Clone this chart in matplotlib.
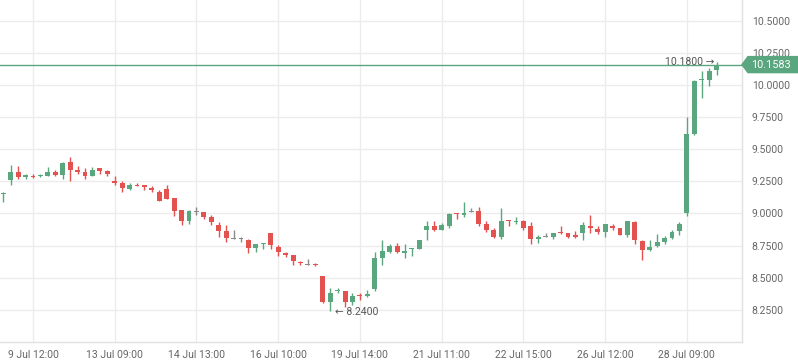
import matplotlib
matplotlib.use("Agg")
import matplotlib.pyplot as plt
from matplotlib.patches import Polygon
import matplotlib.transforms as mtransforms

opens = [9.148, 9.26, 9.32, 9.28, 9.29, 9.29, 9.29, 9.32, 9.30, 9.40,
         9.34, 9.32, 9.29, 9.35, 9.33, 9.25, 9.24, 9.19, 9.22, 9.22,
         9.20, 9.17, 9.19, 9.12, 9.03, 8.945, 9.01, 9.01, 8.97, 8.91,
         8.86, 8.80, 8.80, 8.79, 8.73, 8.76, 8.845, 8.74, 8.695, 8.68,
         8.62, 8.60, 8.605, 8.515, 8.31, 8.395, 8.40, 8.31, 8.365, 8.355,
         8.41, 8.65, 8.70, 8.745, 8.69, 8.725, 8.72, 8.875, 8.90, 8.87,
         8.90, 9.00, 8.985, 9.01, 9.016, 8.915, 8.87, 8.82, 8.945, 8.935,
         8.94, 8.90, 8.805, 8.815, 8.815, 8.85, 8.845, 8.825, 8.845, 8.90,
         8.88, 8.855, 8.905, 8.885, 8.83, 8.93, 8.785, 8.715, 8.75, 8.775,
         8.81, 8.865, 9.00, 9.62, 10.04, 10.04, 10.12]
highs = [9.165, 9.38, 9.37, 9.31, 9.31, 9.31, 9.36, 9.34, 9.40, 9.44,
         9.37, 9.35, 9.36, 9.35, 9.34, 9.29, 9.25, 9.235, 9.235, 9.22,
         9.21, 9.18, 9.22, 9.12, 9.03, 9.025, 9.05, 9.01, 8.99, 8.935,
         8.91, 8.87, 8.815, 8.80, 8.76, 8.77, 8.845, 8.757, 8.70, 8.68,
         8.633, 8.645, 8.615, 8.515, 8.42, 8.42, 8.40, 8.38, 8.38, 8.405,
         8.70, 8.79, 8.765, 8.77, 8.76, 8.735, 8.79, 8.94, 8.94, 8.925,
         9.00, 9.00, 9.09, 9.04, 9.05, 8.945, 8.89, 9.04, 8.95, 8.97,
         8.95, 8.93, 8.835, 8.845, 8.85, 8.905, 8.85, 8.865, 8.93, 8.985,
         8.905, 8.92, 8.915, 8.885, 8.945, 8.94, 8.79, 8.79, 8.84, 8.825,
         8.875, 8.93, 9.75, 10.035, 10.11, 10.13, 10.18]
lows = [9.09, 9.22, 9.27, 9.27, 9.275, 9.28, 9.29, 9.29, 9.27, 9.25,
        9.31, 9.27, 9.29, 9.31, 9.29, 9.22, 9.17, 9.18, 9.21, 9.18,
        9.17, 9.095, 9.11, 8.98, 8.91, 8.92, 8.99, 8.955, 8.91, 8.82,
        8.78, 8.80, 8.78, 8.69, 8.70, 8.72, 8.72, 8.67, 8.665, 8.60,
        8.60, 8.60, 8.59, 8.30, 8.24, 8.38, 8.27, 8.29, 8.33, 8.35,
        8.40, 8.60, 8.69, 8.69, 8.65, 8.67, 8.72, 8.79, 8.86, 8.87,
        8.89, 8.955, 8.975, 9.01, 8.905, 8.855, 8.81, 8.80, 8.90, 8.92,
        8.875, 8.765, 8.77, 8.815, 8.80, 8.84, 8.81, 8.81, 8.79, 8.845,
        8.84, 8.82, 8.87, 8.83, 8.82, 8.76, 8.64, 8.71, 8.74, 8.76,
        8.80, 8.835, 8.98, 9.61, 9.90, 9.995, 10.08]
closes = [9.152, 9.32, 9.28, 9.30, 9.28, 9.30, 9.32, 9.30, 9.39, 9.34,
          9.32, 9.29, 9.34, 9.33, 9.31, 9.235, 9.20, 9.22, 9.215, 9.205,
          9.18, 9.095, 9.11, 9.02, 8.94, 9.02, 9.01, 8.97, 8.93, 8.86,
          8.81, 8.80, 8.80, 8.73, 8.76, 8.765, 8.757, 8.70, 8.68, 8.633,
          8.615, 8.60, 8.60, 8.31, 8.38, 8.40, 8.31, 8.36, 8.36, 8.37,
          8.65, 8.705, 8.745, 8.70, 8.71, 8.73, 8.79, 8.90, 8.87, 8.91,
          8.995, 8.995, 9.00, 9.01, 8.92, 8.87, 8.82, 8.94, 8.94, 8.94,
          8.885, 8.80, 8.82, 8.815, 8.85, 8.845, 8.82, 8.82, 8.91, 8.885,
          8.855, 8.92, 8.89, 8.83, 8.94, 8.79, 8.715, 8.74, 8.775, 8.81,
          8.855, 8.92, 9.62, 10.03, 10.045, 10.11, 10.1583]

tick_positions = [4, 15, 26, 37, 48, 59, 70, 81, 92]
tick_labels = ["9 Jul 12:00", "13 Jul 09:00", "14 Jul 13:00", "16 Jul 10:00",
               "19 Jul 14:00", "21 Jul 11:00", "22 Jul 15:00", "26 Jul 12:00",
               "28 Jul 09:00"]
y_ticks = [8.25, 8.5, 8.75, 9.0, 9.25, 9.5, 9.75, 10.0, 10.25, 10.5]
last_price = 10.1583
max_label = "10.1800"
min_label = "8.2400"

GREEN = "#5aa67f"
RED = "#e3524f"
GREY = "#8a8a8a"
GRID = "#ececec"
TEXT = "#666666"

plt.rcParams['font.family'] = ['Roboto', 'DejaVu Sans']

fig = plt.figure(figsize=(7.98, 3.63), dpi=100)
ax = fig.add_axes([0, 21 / 363, 742 / 798, 342 / 363])

n = len(opens)
xs = list(range(n))
body_w = 0.66
min_h = 0.009
for i in xs:
    o, h, l, c = opens[i], highs[i], lows[i], closes[i]
    if c > o:
        col = GREEN
    elif c < o:
        col = RED
    else:
        col = GREY
    ax.vlines(i, l, h, color=col, linewidth=1.0, zorder=3)
    bottom = min(o, c)
    height = max(abs(c - o), min_h)
    ax.bar(i, height, bottom=bottom, width=body_w, color=col, linewidth=0, zorder=4)

ax.set_xlim(-0.44, 99.42)
ax.set_ylim(8.0, 10.661)

ax.set_xticks(tick_positions)
ax.set_xticklabels(tick_labels)
ax.set_yticks(y_ticks)
ax.set_yticklabels([f"{v:.4f}" for v in y_ticks])
ax.yaxis.tick_right()
ax.tick_params(axis='both', length=0, labelsize=7.5, colors=TEXT)
ax.tick_params(axis='y', pad=7)
ax.tick_params(axis='x', pad=6)
ax.grid(True, color=GRID, linewidth=1.0, zorder=0)
ax.set_axisbelow(True)
for s in ['top', 'left']:
    ax.spines[s].set_visible(False)
for s in ['right', 'bottom']:
    ax.spines[s].set_color("#e0e0e0")
    ax.spines[s].set_linewidth(1.0)

# last price line
ax.axhline(last_price, color=GREEN, linewidth=1.0, zorder=5)

# price label tag on the right axis
trans = mtransforms.blended_transform_factory(ax.transAxes, ax.transData)
x0 = 1.0
x1 = 798 / 742
dy = 8 / 128.5
tag = Polygon([(x0, last_price), (x0 + 0.008, last_price + dy),
               (x1, last_price + dy), (x1, last_price - dy),
               (x0 + 0.008, last_price - dy)],
              closed=True, transform=trans, clip_on=False,
              facecolor=GREEN, edgecolor=GREEN, zorder=6)
ax.add_patch(tag)
ax.text(x0 + 0.012, last_price, f"{last_price:.4f}", transform=trans,
        ha='left', va='center', color='white', fontsize=7.8, zorder=7,
        clip_on=False)

# max / min annotations
imax = highs.index(max(highs))
imin = lows.index(min(lows))
ax.text(imax - 0.3, max(highs), max_label + " \u2192", ha='right', va='center',
        color="#555555", fontsize=7.5, zorder=7)
ax.text(imin + 0.6, min(lows) - 0.01, "\u2190 " + min_label, ha='left', va='center',
        color="#555555", fontsize=7.5, zorder=7)

fig.savefig("out.png", dpi=100)
